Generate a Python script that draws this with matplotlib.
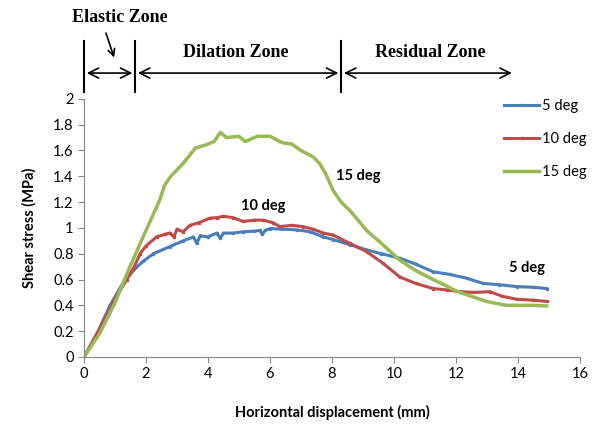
import matplotlib.pyplot as plt

# series
x5 = [0, 0.4, 0.84, 1.2, 1.59, 1.9, 2.24, 2.77, 3.2, 3.53, 3.64, 3.75, 4.0, 4.28, 4.4, 4.5, 4.8,
      5.14, 5.5, 5.68, 5.75, 5.85, 6.0, 6.4, 6.86, 7.3, 7.72, 8.04, 8.58, 9.12, 9.6, 10.19, 10.7,
      11.27, 11.8, 12.35, 12.88, 13.4, 13.96, 14.5, 14.93]
y5 = [0, 0.17, 0.40, 0.55, 0.67, 0.74, 0.80, 0.855, 0.90, 0.93, 0.88, 0.94, 0.93, 0.96, 0.92, 0.96,
      0.96, 0.97, 0.975, 0.98, 0.95, 0.98, 0.995, 0.99, 0.985, 0.97, 0.93, 0.91, 0.87, 0.83, 0.80,
      0.765, 0.72, 0.66, 0.64, 0.61, 0.57, 0.56, 0.545, 0.54, 0.53]

x10 = [0, 0.3, 0.62, 1.0, 1.38, 1.6, 1.81, 2.0, 2.34, 2.6, 2.77, 2.9, 3.0, 3.2, 3.42, 3.7, 4.06,
       4.3, 4.49, 4.8, 5.14, 5.5, 5.78, 6.1, 6.32, 6.7, 7.07, 7.4, 7.72, 8.04, 8.58, 9.12, 9.65,
       10.19, 10.7, 11.27, 11.7, 12.13, 12.6, 13.1, 13.5, 13.96, 14.5, 14.93]
y10 = [0, 0.13, 0.27, 0.45, 0.60, 0.69, 0.80, 0.86, 0.93, 0.95, 0.96, 0.93, 0.99, 0.97, 1.02, 1.04,
       1.075, 1.08, 1.09, 1.08, 1.05, 1.06, 1.06, 1.04, 1.01, 1.02, 1.01, 0.99, 0.96, 0.945, 0.88,
       0.816, 0.726, 0.62, 0.57, 0.53, 0.52, 0.506, 0.50, 0.506, 0.47, 0.447, 0.44, 0.43]

x15 = [0, 0.5, 1.0, 1.5, 2.0, 2.45, 2.6, 2.8, 3.2, 3.6, 3.9, 4.2, 4.4, 4.6, 5.0, 5.2, 5.6, 6.0,
       6.4, 6.7, 7.0, 7.4, 7.6, 7.8, 8.04, 8.3, 8.6, 9.12, 9.6, 10.19, 10.7, 11.27, 11.7, 12.02,
       12.5, 12.99, 13.63, 14.0, 14.5, 14.93]
y15 = [0, 0.18, 0.42, 0.71, 0.98, 1.22, 1.33, 1.40, 1.50, 1.62, 1.64, 1.67, 1.74, 1.70, 1.71, 1.67,
       1.71, 1.71, 1.66, 1.65, 1.60, 1.55, 1.50, 1.42, 1.29, 1.20, 1.13, 0.98, 0.88, 0.75, 0.67,
       0.60, 0.55, 0.51, 0.47, 0.43, 0.40, 0.40, 0.40, 0.395]

zone_edges = [0, 1.65, 8.3]
zone_end = 13.9

fig = plt.figure(figsize=(5.98, 4.28), dpi=100)
ax = fig.add_axes([0.1405, 0.166, 0.829, 0.603])

ax.plot(x5, y5, color="#4a7ebb", lw=2.2, marker=".", ms=3, label="5 deg")
ax.plot(x10, y10, color="#be4b48", lw=2.2, marker="s", ms=2, label="10 deg")
ax.plot(x15, y15, color="#98b954", lw=2.5, label="15 deg")

ax.set_xlim(0, 16)
ax.set_ylim(0, 2)
ax.set_xticks(range(0, 17, 2))
ax.set_yticks([i / 5 for i in range(11)])
ax.set_yticklabels(["0", "0.2", "0.4", "0.6", "0.8", "1", "1.2", "1.4", "1.6", "1.8", "2"])
for s in ["top", "right"]:
    ax.spines[s].set_visible(False)
for s in ["left", "bottom"]:
    ax.spines[s].set_color("#868686")
ax.tick_params(colors="#868686", labelcolor="black", labelsize=10.5, length=4)
for lab in ax.get_xticklabels() + ax.get_yticklabels():
    lab.set_family("Lato")

ax.set_xlabel("Horizontal displacement (mm)", family="Lato", fontweight="bold", fontsize=10.5, labelpad=17)
ax.set_ylabel("Shear stress (MPa)", family="Lato", fontweight="bold", fontsize=10.5, labelpad=12)

leg = ax.legend(loc="upper left", bbox_to_anchor=(0.848, 0.998), frameon=False,
                prop={"family": "Lato", "size": 10.5}, handlelength=2.4, labelspacing=1.3,
                handletextpad=0.15, borderaxespad=0, borderpad=0)

ax.text(5.77, 1.14, "10 deg", family="Lato", fontweight="bold", fontsize=10.5, ha="center")
ax.text(8.84, 1.37, "15 deg", family="Lato", fontweight="bold", fontsize=10.5, ha="center")
ax.text(14.3, 0.66, "5 deg", family="Lato", fontweight="bold", fontsize=10.5, ha="center")

# zone markers above the plot
for xe in zone_edges:
    ax.plot([xe, xe], [2.05, 2.45], color="black", lw=1.5, clip_on=False)
bounds = zone_edges + [zone_end]
for a, b in zip(bounds[:-1], bounds[1:]):
    ax.annotate("", xy=(b, 2.2), xytext=(a, 2.2), annotation_clip=False,
                arrowprops=dict(arrowstyle="<->", lw=1.2, color="black", mutation_scale=18))
zfont = dict(family="Liberation Serif", fontweight="bold", fontsize=13)
ax.text(1.16, 2.63, "Elastic Zone", ha="center", va="center", **zfont)
ax.text(4.9, 2.36, "Dilation Zone", ha="center", va="center", **zfont)
ax.text(11.16, 2.36, "Residual Zone", ha="center", va="center", **zfont)
ax.annotate("", xy=(1.0, 2.3), xytext=(0.68, 2.53), annotation_clip=False,
            arrowprops=dict(arrowstyle="->", lw=1.2, color="black", mutation_scale=12))

fig.savefig("out.png", dpi=100)
